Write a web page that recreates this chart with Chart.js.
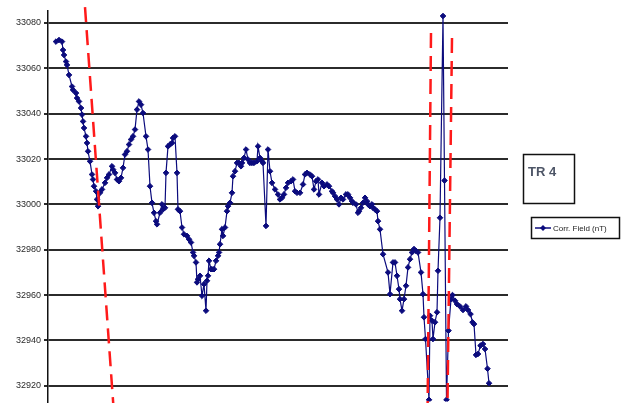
<!DOCTYPE html>
<html>
<head>
<meta charset="utf-8">
<title>TR 4 - Corr. Field</title>
<script src="https://cdn.jsdelivr.net/npm/chart.js@4.4.9/dist/chart.umd.min.js"></script>
<style>
    html, body { margin: 0; padding: 0; background: #ffffff; overflow: hidden; }
    #wrap { position: relative; width: 636px; height: 410px; }
</style>
</head>
<body>
<div id="wrap"><canvas id="fieldChart"></canvas></div>
<script>
// Distance along the traverse (arbitrary units)
const distance = [
    8, 11, 14, 15, 16, 18, 19, 21, 24, 25, 28, 29, 31, 33, 34, 35, 36, 38, 39, 40,
    42, 44, 45, 46, 48, 49, 50, 52, 54, 57, 59, 61, 64, 65, 67, 69, 71, 73, 75, 77,
    79, 81, 83, 85, 87, 89, 91, 93, 95, 98, 100, 102, 104, 106, 108, 109, 112, 114, 115, 117,
    118, 120, 122, 124, 125, 127, 129, 130, 132, 134, 136, 139, 141, 143, 145, 146, 148, 149, 150, 152,
    154, 156, 158, 159, 160, 161, 163, 164, 166, 168, 170, 171, 172, 174, 175, 177, 179, 180, 182, 184,
    185, 187, 189, 191, 193, 194, 196, 198, 200, 202, 204, 206, 209, 210, 212, 214, 215, 218, 220, 222,
    224, 227, 230, 232, 234, 236, 238, 240, 243, 245, 247, 249, 252, 255, 257, 259, 262, 264, 266, 268,
    270, 271, 274, 276, 279, 281, 284, 285, 287, 289, 291, 293, 295, 298, 300, 302, 304, 305, 308, 310,
    311, 313, 315, 317, 319, 320, 322, 324, 325, 327, 329, 330, 332, 335, 340, 342, 345, 347, 349, 351,
    352, 354, 356, 358, 360, 362, 364, 366, 368, 370, 373, 375, 376, 377.5, 381, 382, 384, 385, 387, 389,
    390, 392, 395, 396.5, 398.5, 400.5, 403, 404.5, 407, 409, 412, 415, 418, 420, 422.5, 424.5, 426, 428, 430, 432.5,
    435, 437, 439.5, 441
];

// Corrected total field (nT)
const corrField = [
    33071.8, 33072.5, 33071.8, 33068.1, 33065.9, 33063.0, 33061.5, 33057.1, 33052.0, 33050.5,
    33049.1, 33046.9, 33045.4, 33042.5, 33039.6, 33036.6, 33033.7, 33030.0, 33027.1, 33023.4,
    33019.0, 33013.2, 33011.0, 33008.0, 33005.8, 33002.2, 32999.2, 33005.1, 33006.6, 33009.5,
    33011.7, 33013.2, 33016.8, 33015.4, 33013.9, 33011.0, 33010.2, 33011.7, 33016.1, 33022.0,
    33023.4, 33026.4, 33028.6, 33030.0, 33033.0, 33041.8, 33045.4, 33044.0, 33040.3, 33030.0,
    33024.2, 33008.0, 33000.7, 32996.3, 32992.6, 32991.2, 32996.3, 33000.0, 32997.8, 32998.5,
    33013.9, 33025.6, 33026.4, 33027.1, 33029.3, 33030.0, 33013.9, 32997.8, 32997.0, 32989.8,
    32986.8, 32986.1, 32984.6, 32983.2, 32978.8, 32977.3, 32974.4, 32965.6, 32967.0, 32968.5,
    32959.7, 32964.8, 32953.1, 32966.3, 32968.5, 32975.1, 32971.4, 32971.4, 32971.4, 32975.1,
    32977.3, 32978.8, 32982.4, 32989.0, 32986.1, 32989.8, 32997.0, 32999.2, 33000.7, 33005.1,
    33012.4, 33014.6, 33018.3, 33018.3, 33016.8, 33018.3, 33020.5, 33024.2, 33019.8, 33018.3,
    33018.3, 33018.3, 33019.0, 33025.6, 33020.5, 33019.0, 33018.3, 32990.5, 33024.2, 33014.6,
    33009.5, 33006.6, 33004.4, 33002.2, 33002.9, 33004.4, 33007.3, 33009.5, 33010.2, 33011.0,
    33005.8, 33005.1, 33005.1, 33008.8, 33013.2, 33013.9, 33013.2, 33012.4, 33006.6, 33010.2,
    33011.0, 33004.4, 33009.5, 33008.0, 33008.8, 33008.0, 33005.8, 33005.1, 33003.6, 33002.2,
    33000.0, 33002.9, 33002.2, 33004.4, 33004.4, 33002.9, 33001.4, 33000.7, 33000.0, 32996.3,
    32997.0, 32998.5, 33000.7, 33002.9, 33001.4, 33000.0, 32999.2, 33000.0, 32998.5, 32997.8,
    32997.0, 32992.6, 32989.0, 32978.0, 32970.0, 32960.4, 32974.4, 32974.4, 32968.5, 32962.6,
    32958.2, 32953.1, 32958.2, 32964.1, 32972.2, 32975.8, 32978.8, 32980.3, 32979.5, 32978.8,
    32970.0, 32960.4, 32950.2, 32940.6, 32913.8, 32950.9, 32948.7, 32940.6, 32948.0, 32952.4,
    32970.7, 32994.1, 33083.1, 33010.5, 32913.8, 32944.3, 32958.2, 32960.0, 32957.5, 32956.0,
    32955.0, 32953.4, 32955.0, 32953.4, 32951.6, 32948.0, 32947.2, 32933.6, 32934.0, 32937.7,
    32938.4, 32936.2, 32927.5, 32921.1
];

// Interpreted boundaries (red dashed), top and bottom end of each
const cutA_dist = [37, 66.3];
const cutA_field = [33087.0, 32905.5];
const cutB_dist = [383, 379.5];
const cutB_field = [33075.6, 32905.5];
const cutC_dist = [404, 399.3];
const cutC_field = [33073.4, 32905.5];

const yTicks = [32920, 32940, 32960, 32980, 33000, 33020, 33040, 33060, 33080];
const profileName = 'TR 4';
const seriesName = 'Corr. Field (nT)';

function toXY(xs, ys) {
    return xs.map(function (x, i) { return { x: x, y: ys[i] }; });
}

function cutLine(xs, ys) {
    return {
        label: 'cut',
        data: toXY(xs, ys),
        borderColor: '#ff1a1a',
        borderWidth: 2.5,
        borderDash: [15, 8],
        pointRadius: 0,
        fill: false,
        clip: false,
        order: 0
    };
}

// Box with the profile name and a small framed legend on the right
const sideBoxes = {
    id: 'sideBoxes',
    afterDraw: function (chart) {
        const ctx = chart.ctx;
        const ds = chart.data.datasets[0];
        ctx.save();
        ctx.strokeStyle = '#111';
        ctx.lineWidth = 1.5;
        ctx.strokeRect(523.5, 154.5, 51, 49);
        ctx.fillStyle = '#4d5566';
        ctx.font = 'bold 13px "Liberation Sans Narrow", "Liberation Sans", Arial, sans-serif';
        ctx.textBaseline = 'alphabetic';
        ctx.fillText(profileName, 528, 176);

        ctx.strokeRect(531.5, 217.5, 88, 21);
        ctx.strokeStyle = ds.borderColor;
        ctx.lineWidth = 1.5;
        ctx.beginPath();
        ctx.moveTo(535, 228);
        ctx.lineTo(551, 228);
        ctx.stroke();
        ctx.fillStyle = ds.borderColor;
        ctx.beginPath();
        ctx.moveTo(543, 225);
        ctx.lineTo(546, 228);
        ctx.lineTo(543, 231);
        ctx.lineTo(540, 228);
        ctx.closePath();
        ctx.fill();
        ctx.fillStyle = '#222';
        ctx.font = '8px "Liberation Sans Narrow", "Liberation Sans", Arial, sans-serif';
        ctx.textBaseline = 'middle';
        ctx.fillText(ds.label, 553, 228.5);
        ctx.restore();
    }
};

const ctx = document.getElementById('fieldChart').getContext('2d');
new Chart(ctx, {
    type: 'line',
    data: {
        datasets: [
            {
                label: seriesName,
                data: toXY(distance, corrField),
                borderColor: '#0b0b7d',
                backgroundColor: '#0b0b7d',
                borderWidth: 1.2,
                pointStyle: 'rectRot',
                pointRadius: 2.8,
                pointBorderWidth: 1,
                tension: 0,
                fill: false,
                order: 1
            },
            cutLine(cutA_dist, cutA_field),
            cutLine(cutB_dist, cutB_field),
            cutLine(cutC_dist, cutC_field)
        ]
    },
    options: {
        responsive: true,
        maintainAspectRatio: false,
        animation: false,
        layout: { padding: { left: 0, right: 128, top: 11, bottom: 0 } },
        plugins: {
            legend: { display: false },
            tooltip: { enabled: false }
        },
        scales: {
            x: {
                type: 'linear',
                display: false,
                min: 0,
                max: 460
            },
            y: {
                type: 'linear',
                min: 32913,
                max: 33085.3,
                afterFit: function (scale) { scale.width = 48; },
                afterBuildTicks: function (scale) {
                    scale.ticks = yTicks.map(function (v) { return { value: v }; });
                },
                ticks: {
                    color: '#2a2a2a',
                    padding: 3,
                    font: { family: '"Liberation Sans", Arial, sans-serif', size: 9 },
                    callback: function (v) { return String(v); }
                },
                grid: {
                    color: '#2b2b2b',
                    lineWidth: 2,
                    tickLength: 4,
                    drawTicks: true
                },
                border: { color: '#111', width: 1.5 }
            }
        }
    },
    plugins: [sideBoxes]
});
</script>
</body>
</html>
